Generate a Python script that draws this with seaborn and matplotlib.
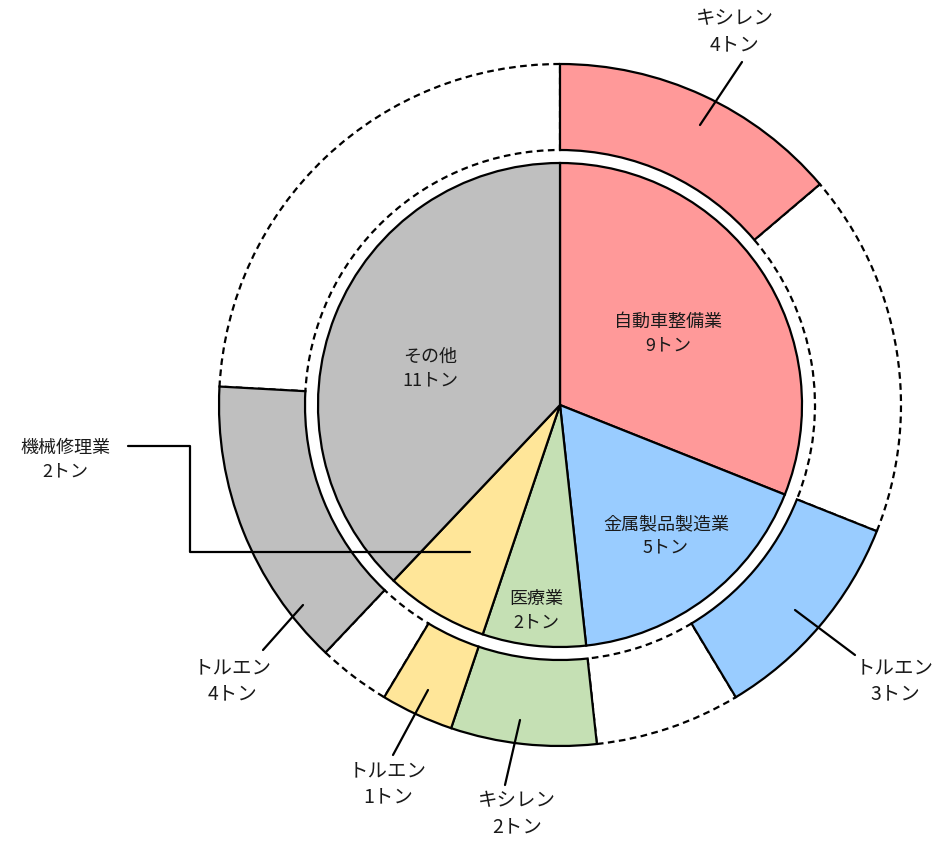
import numpy as np
import seaborn as sns
import matplotlib.pyplot as plt

# inner pie: industries (tons)
industries = ["自動車整備業", "金属製品製造業", "医療業", "機械修理業", "その他"]
industry_tons = [9, 5, 2, 2, 11]
industry_colors = ["#FF9999", "#99CCFF", "#C5E0B4", "#FFE699", "#BFBFBF"]

# outer ring: main substance of each industry (tons), rest of the industry drawn blank
substances = ["キシレン", "トルエン", "キシレン", "トルエン", "トルエン"]
substance_tons = [4, 3, 2, 1, 4]

sns.set_theme(style="white")
plt.rcParams["font.family"] = ["Noto Sans CJK JP", "DejaVu Sans"]

CX, CY = 560, 405  # pie centre in picture pixels
R_IN = 242
R_OUT = 341
RING_W = 86


def px(x, y):
    # picture pixel -> data coords (centre at origin, y up)
    return (x - CX, CY - y)


fig = plt.figure(figsize=(9.44, 8.41), dpi=100)
ax = fig.add_axes([0, 0, 1, 1])

# inner pie
ax.pie(
    industry_tons,
    colors=industry_colors,
    radius=R_IN,
    center=(0, 0),
    startangle=90,
    counterclock=False,
    wedgeprops=dict(edgecolor="black", linewidth=1.6),
    frame=True,
)

# outer ring
ring_vals, ring_cols, ring_blank = [], [], []
for tot, sub, col in zip(industry_tons, substance_tons, industry_colors):
    ring_vals.append(sub)
    ring_cols.append(col)
    ring_blank.append(False)
    if tot > sub:
        ring_vals.append(tot - sub)
        ring_cols.append("white")
        ring_blank.append(True)

wedges, _ = ax.pie(
    ring_vals,
    colors=ring_cols,
    radius=R_OUT,
    center=(0, 0),
    startangle=90,
    counterclock=False,
    wedgeprops=dict(width=RING_W, edgecolor="black", linewidth=1.6),
    frame=True,
)
for w, blank in zip(wedges, ring_blank):
    if blank:
        w.set_linestyle((0, (3, 2)))
        w.set_zorder(1)
    else:
        w.set_zorder(2)

inner_txt = dict(ha="center", va="center", fontsize=13, color="#1a1a1a", linespacing=1.4)
outer_txt = dict(ha="center", va="center", fontsize=14, color="#1a1a1a", linespacing=1.3)

# labels inside the pie
inner_pos = [(668, 334), (666, 536), (536, 611), None, (430, 369)]
for name, tons, pos in zip(industries, industry_tons, inner_pos):
    if pos is None:
        continue
    ax.text(*px(*pos), f"{name}\n{tons}トン", zorder=5, **inner_txt)

# outer labels with leader lines: (anchor in segment, line end, text centre)
outer_layout = [
    ((700, 125), (742, 62), (735, 32)),
    ((795, 610), (855, 655), (895, 681)),
    ((520, 720), (505, 785), (517, 814)),
    ((428, 690), (393, 755), (388, 784)),
    ((303, 605), (263, 650), (233, 681)),
]
for sub, tons, (a, b, t) in zip(substances, substance_tons, outer_layout):
    ax.plot(*zip(px(*a), px(*b)), color="black", lw=1.6, zorder=6)
    ax.text(*px(*t), f"{sub}\n{tons}トン", zorder=6, **outer_txt)

# 機械修理業 label outside with elbow line
elbow = [px(128, 446), px(190, 446), px(190, 552), px(470, 552)]
ax.plot(*zip(*elbow), color="black", lw=1.6, zorder=6)
ax.text(*px(65, 460), f"{industries[3]}\n{industry_tons[3]}トン", zorder=6, **inner_txt)

ax.set_xlim(-CX, 944 - CX)
ax.set_ylim(CY - 841, CY)
ax.set_aspect("equal")
ax.set_axis_off()

plt.savefig("out.png", dpi=100)
